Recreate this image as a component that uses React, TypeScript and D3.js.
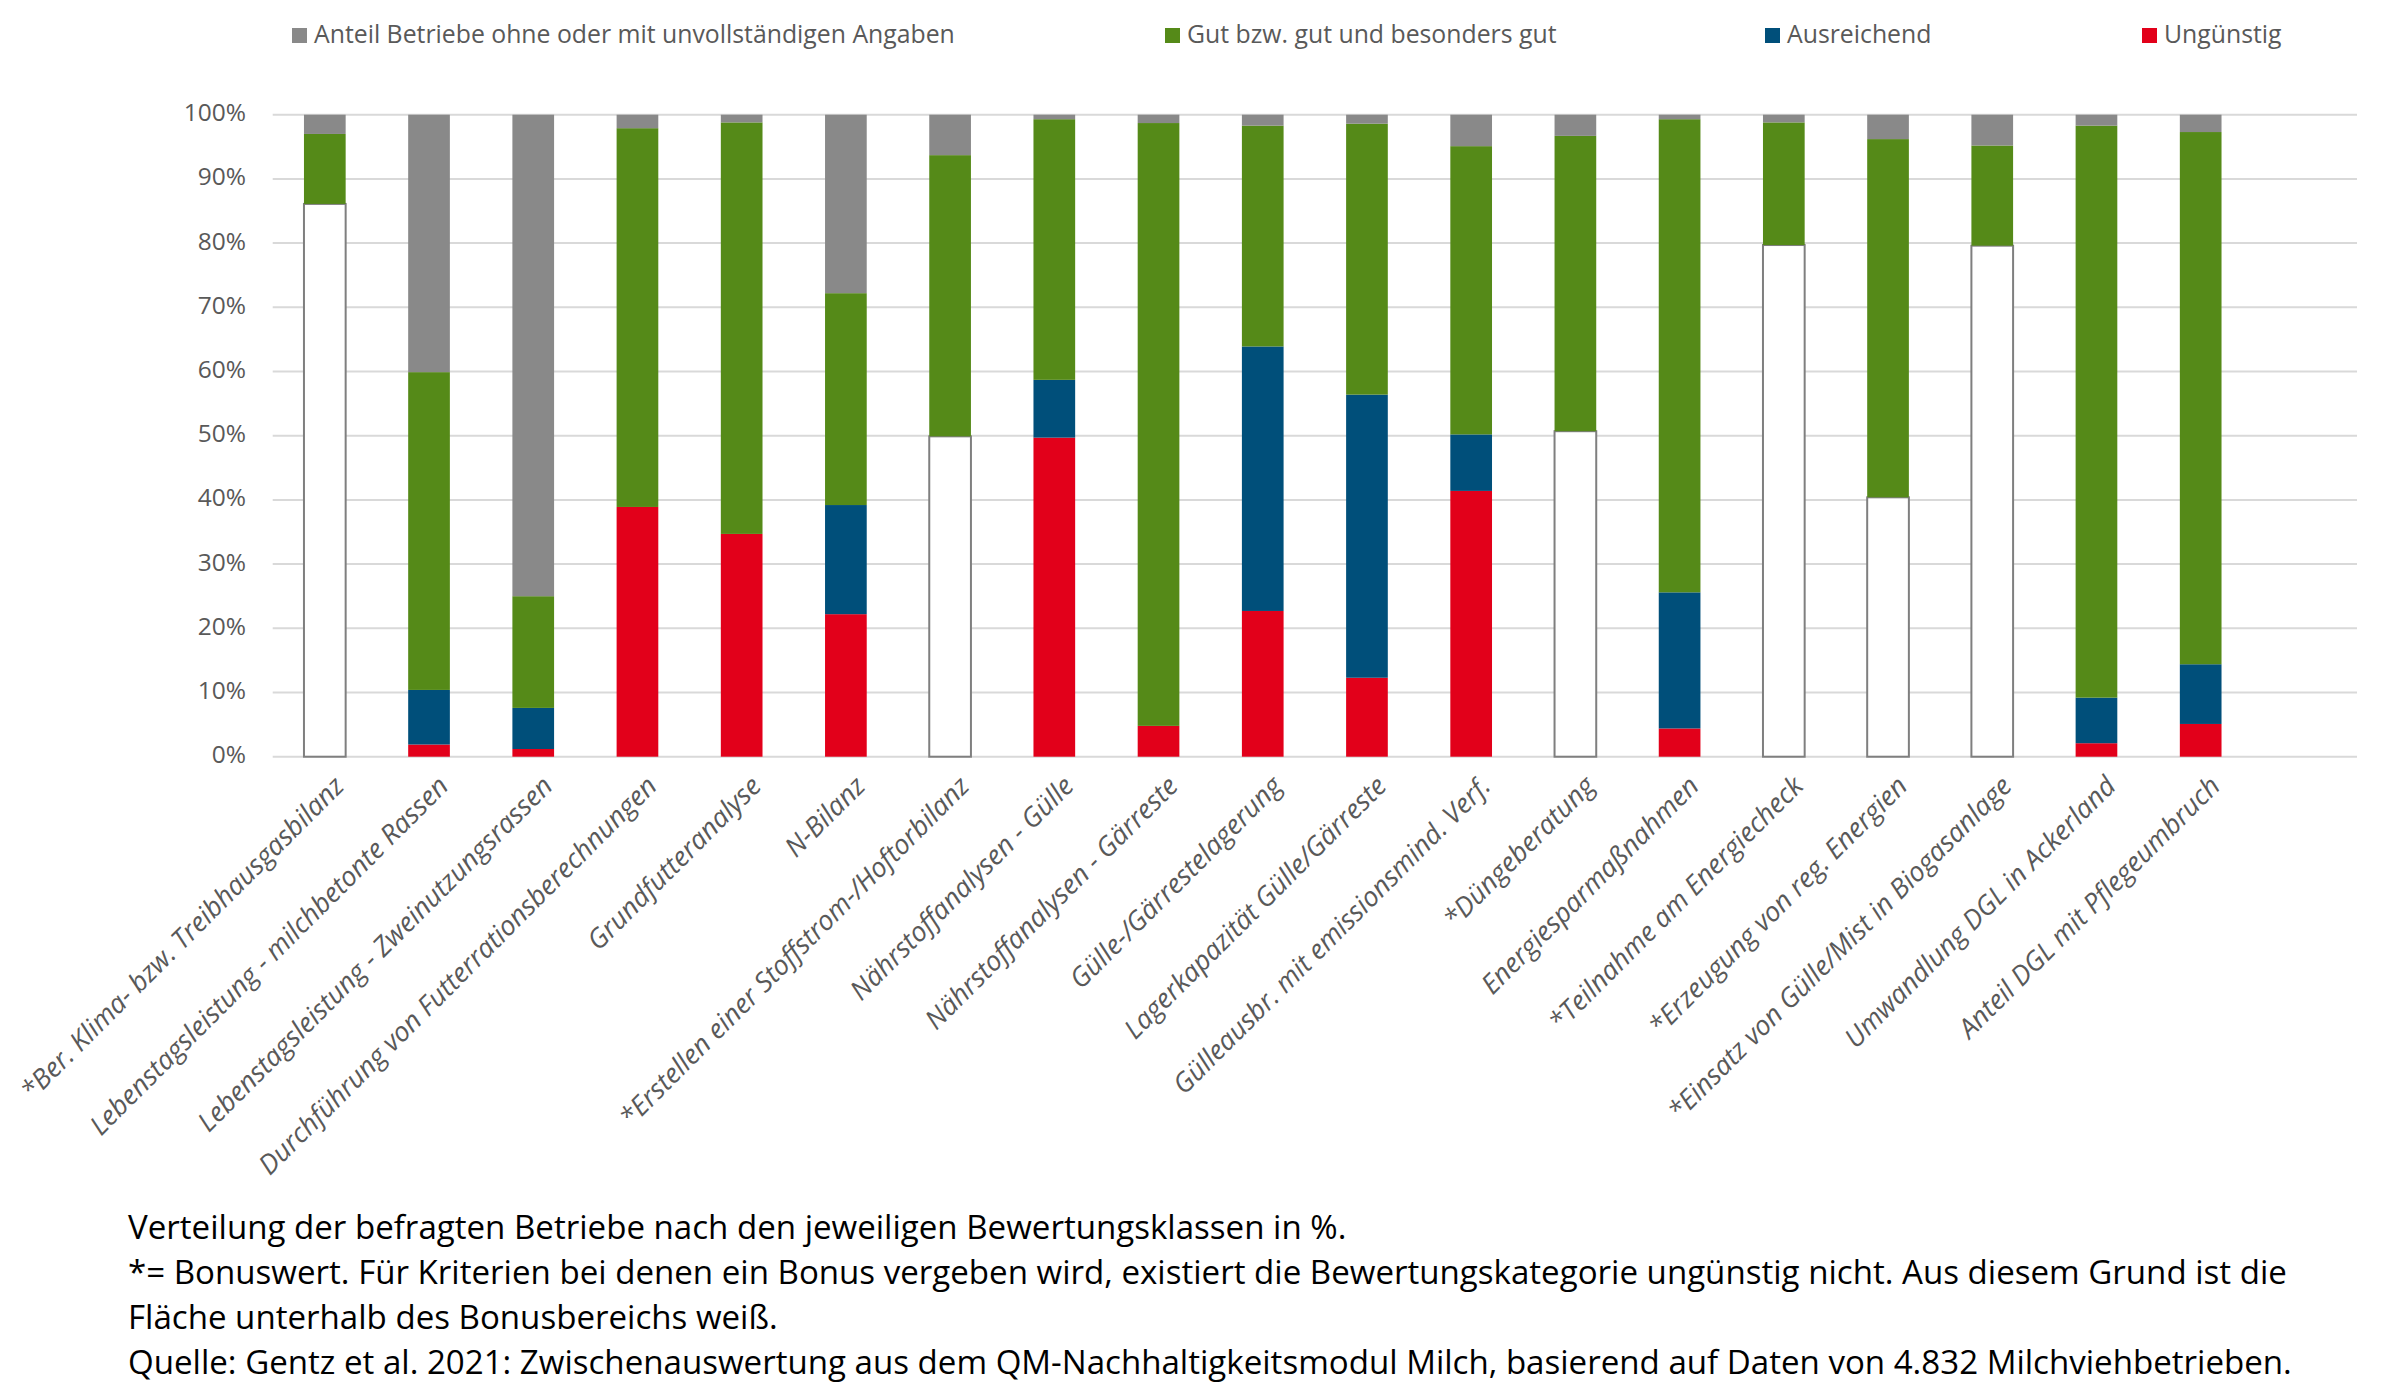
import React from "react";
import * as d3 from "d3";

const categories = [
  "*Ber. Klima- bzw. Treibhausgasbilanz",
  "Lebenstagsleistung - milchbetonte Rassen",
  "Lebenstagsleistung - Zweinutzungsrassen",
  "Durchführung von Futterrationsberechnungen",
  "Grundfutteranalyse",
  "N-Bilanz",
  "*Erstellen einer Stoffstrom-/Hoftorbilanz",
  "Nährstoffanalysen - Gülle",
  "Nährstoffanalysen - Gärreste",
  "Gülle-/Gärrestelagerung",
  "Lagerkapazität Gülle/Gärreste",
  "Gülleausbr. mit emissionsmind. Verf.",
  "*Düngeberatung",
  "Energiesparmaßnahmen",
  "*Teilnahme am Energiecheck",
  "*Erzeugung von reg. Energien",
  "*Einsatz von Gülle/Mist in Biogasanlage",
  "Umwandlung DGL in Ackerland",
  "Anteil DGL mit Pflegeumbruch",
];

const ungunstig = [0, 1.9, 1.2, 38.9, 34.7, 22.2, 0, 49.7, 4.8, 22.7, 12.3, 41.4, 0, 4.4, 0, 0, 0, 2.1, 5.1];
const ausreichend = [0, 8.5, 6.4, 0, 0, 17.0, 0, 9.0, 0, 41.2, 44.1, 8.8, 0, 21.2, 0, 0, 0, 7.1, 9.3];
const bonusWeiss = [86.1, 0, 0, 0, 0, 0, 49.9, 0, 0, 0, 0, 0, 50.7, 0, 79.7, 40.4, 79.6, 0, 0];
const gut = [10.9, 49.5, 17.4, 59.0, 64.1, 33.0, 43.8, 40.6, 93.9, 34.4, 42.2, 44.9, 46.0, 73.7, 19.1, 55.8, 15.6, 89.1, 82.9];
const ohneAngaben = [3.0, 40.1, 75.0, 2.1, 1.2, 27.8, 6.3, 0.7, 1.3, 1.7, 1.4, 4.9, 3.3, 0.7, 1.2, 3.8, 4.8, 1.7, 2.7];

const yTicks = [0, 10, 20, 30, 40, 50, 60, 70, 80, 90, 100];

const legendItems = [
  { key: "ohne", label: "Anteil Betriebe ohne oder mit unvollständigen Angaben" },
  { key: "gut", label: "Gut bzw. gut und besonders gut" },
  { key: "aus", label: "Ausreichend" },
  { key: "ung", label: "Ungünstig" },
];

const footnotes = [
  "Verteilung der befragten Betriebe nach den jeweiligen Bewertungsklassen in %.",
  "*= Bonuswert. Für Kriterien bei denen ein Bonus vergeben wird, existiert die Bewertungskategorie ungünstig nicht. Aus diesem Grund ist die",
  "Fläche unterhalb des Bonusbereichs weiß.",
  "Quelle: Gentz et al. 2021: Zwischenauswertung aus dem QM-Nachhaltigkeitsmodul Milch, basierend auf Daten von 4.832 Milchviehbetrieben.",
];

const keys = ["ung", "aus", "bonus", "gut", "ohne"];
const colors: Record<string, string> = {
  ung: "#e2001a",
  aus: "#004f7a",
  bonus: "#ffffff",
  gut: "#558a18",
  ohne: "#898989",
};

const W = 2400;
const H = 1399;
const FONT = "'Open Sans', sans-serif";

export default function App() {
  const left = 272.7;
  const right = 2357;
  const top = 114.7;
  const bottom = 756.7;
  const step = (right - left) / (categories.length + 1);

  const x = d3
    .scaleBand<string>()
    .domain(categories)
    .range([left, left + step * categories.length])
    .paddingInner(0.6)
    .paddingOuter(0.3);

  const y = d3.scaleLinear().domain([0, 100]).range([bottom, top]);

  const rows = categories.map((c, i) => ({
    cat: c,
    ung: ungunstig[i],
    aus: ausreichend[i],
    bonus: bonusWeiss[i],
    gut: gut[i],
    ohne: ohneAngaben[i],
  }));
  const stacked = d3.stack<any>().keys(keys)(rows);

  const legendX = [292, 1165, 1765, 2142];

  return (
    <div>
      <style>{`body{margin:0;background:#fff}`}</style>
      <svg width={W} height={H} style={{ display: "block", fontFamily: FONT }}>
        <rect width={W} height={H} fill="#fff" />
        {yTicks.map((t) => (
          <line
            key={t}
            x1={left}
            x2={right}
            y1={y(t)}
            y2={y(t)}
            stroke="#d9d9d9"
            strokeWidth={2}
          />
        ))}
        {yTicks.map((t) => (
          <text
            key={"l" + t}
            x={246}
            y={y(t)}
            textAnchor="end"
            dominantBaseline="middle"
            fontSize={24.5}
            fill="#595959"
          >
            {t + "%"}
          </text>
        ))}
        {stacked.map((series) =>
          series.map((d, i) => {
            const h = y(d[0]) - y(d[1]);
            if (h <= 0) return null;
            const isBonus = series.key === "bonus";
            return (
              <rect
                key={series.key + i}
                x={x(categories[i])!}
                y={y(d[1])}
                width={x.bandwidth()}
                height={h}
                fill={colors[series.key]}
                stroke={isBonus ? "#7f7f7f" : "none"}
                strokeWidth={isBonus ? 2 : 0}
              />
            );
          })
        )}
        {categories.map((c) => {
          const cx = x(c)! + x.bandwidth() / 2 + 21;
          const cy = bottom + 31;
          return (
            <text
              key={"x" + c}
              x={cx}
              y={cy}
              transform={`rotate(-45 ${cx} ${cy})`}
              textAnchor="end"
              fontSize={27}
              fontStyle="italic"
              fill="#595959"
            >
              {c}
            </text>
          );
        })}
        {legendItems.map((l, i) => (
          <g key={l.key}>
            <rect x={legendX[i]} y={28} width={15} height={15} fill={colors[l.key]} />
            <text
              x={legendX[i] + 22}
              y={36}
              dominantBaseline="middle"
              fontSize={24.8}
              fill="#595959"
            >
              {l.label}
            </text>
          </g>
        ))}
        {footnotes.map((f, i) => (
          <text key={"f" + i} x={128} y={1239 + i * 45} fontSize={33.1} fill="#000">
            {f}
          </text>
        ))}
      </svg>
    </div>
  );
}
